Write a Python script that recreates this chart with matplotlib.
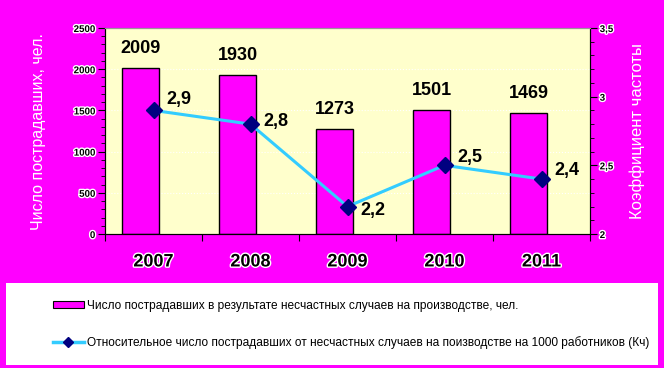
import matplotlib
matplotlib.use("Agg")
import matplotlib.pyplot as plt
import matplotlib.patheffects as pe
from matplotlib.patches import Rectangle, Patch
from matplotlib.lines import Line2D
from matplotlib.ticker import MultipleLocator, FuncFormatter

# data
years = ["2007", "2008", "2009", "2010", "2011"]
victims = [2009, 1930, 1273, 1501, 1469]
kch = [2.9, 2.8, 2.2, 2.5, 2.4]
kch_labels = ["2,9", "2,8", "2,2", "2,5", "2,4"]

bar_label = "Число пострадавших в результате несчастных случаев на производстве, чел."
line_label = "Относительное число пострадавших от несчастных случаев на поизводстве на 1000 работников (Кч)"

MAGENTA = "#FF00FF"
CYAN = "#33CCFF"
NAVY = "#000080"

plt.rcParams["font.family"] = ["Liberation Sans", "DejaVu Sans"]
halo = [pe.withStroke(linewidth=2, foreground="white")]

fig = plt.figure(figsize=(6.64, 3.68), dpi=100, facecolor=MAGENTA)
ax = fig.add_axes([105 / 664, 1 - 234 / 368, 485 / 664, 206 / 368])
ax.set_facecolor("#FFFFCC")

x = list(range(len(years)))
xb = [i - 0.13 for i in x]
ax.bar(xb, victims, width=0.38, color=MAGENTA, edgecolor="black", linewidth=1, zorder=2)
for xi, v in zip(xb, victims):
    ax.annotate(str(v), (xi, v), xytext=(0, 8), textcoords="offset points",
                ha="center", va="bottom", fontsize=13, fontweight="bold")

ax.set_xlim(-0.5, len(years) - 0.5)
ax.set_ylim(0, 2500)
ax.yaxis.set_major_locator(MultipleLocator(500))
ax.yaxis.set_minor_locator(MultipleLocator(100))
ax.set_xticks([i - 0.5 for i in range(len(years) + 1)])
ax.set_xticklabels([])
ax.set_xticks(x, minor=True)
ax.set_xticklabels(years, minor=True, fontsize=13, fontweight="bold")
ax.tick_params(axis="x", which="major", direction="out", length=5, color="black")
ax.tick_params(axis="x", which="minor", length=0, pad=14)
ax.tick_params(axis="y", which="major", direction="out", length=5, labelsize=7, pad=2)
ax.tick_params(axis="y", which="minor", direction="out", length=3)
for lab in ax.get_yticklabels() + ax.get_xticklabels(minor=True):
    lab.set_fontweight("bold")
    lab.set_path_effects(halo)
ax.grid(axis="y", color="white", linestyle=":", linewidth=0.8, zorder=0)
ax.set_axisbelow(True)
ax.spines["top"].set_color("#999999")
ax.set_ylabel("Число пострадавших, чел.", color="white", fontsize=11.5, labelpad=20)

ax2 = ax.twinx()
ax2.plot(x, kch, color=CYAN, linewidth=2.2, marker="D", markersize=8,
         markerfacecolor=NAVY, markeredgecolor=NAVY, zorder=3)
offsets = [(9, 8), (9, 2), (9, -3), (9, 6), (9, 6)]
for xi, k, t, off in zip(x, kch, kch_labels, offsets):
    ax2.annotate(t, (xi, k), xytext=off, textcoords="offset points",
                 ha="left", va="center", fontsize=13, fontweight="bold")
ax2.set_ylim(2, 3.5)
ax2.yaxis.set_major_locator(MultipleLocator(0.5))
ax2.yaxis.set_minor_locator(MultipleLocator(0.1))
ax2.yaxis.set_major_formatter(FuncFormatter(lambda v, p: f"{v:g}".replace(".", ",")))
ax2.tick_params(axis="y", which="major", direction="out", length=5, labelsize=7, pad=2)
ax2.tick_params(axis="y", which="minor", direction="out", length=3)
for lab in ax2.get_yticklabels():
    lab.set_fontweight("bold")
    lab.set_path_effects(halo)
ax2.spines["top"].set_color("#999999")
ax2.set_ylabel("Коэффициент частоты", color="white", fontsize=12, labelpad=12)

# legend box
fig.patches.append(Rectangle((6 / 664, 1 - 365 / 368), 652 / 664, 82 / 368,
                             transform=fig.transFigure, facecolor="white",
                             edgecolor="none", zorder=0))
handles = [
    Patch(facecolor=MAGENTA, edgecolor="black", linewidth=0.8),
    Line2D([], [], color=CYAN, linewidth=2.5, marker="D", markersize=5,
           markerfacecolor=NAVY, markeredgecolor=NAVY),
]
fig.legend(handles, [bar_label, line_label], loc="upper left",
           bbox_to_anchor=(42 / 664, 1 - 289 / 368), frameon=False,
           fontsize=8.6, labelspacing=2.0, handlelength=2.6, handletextpad=0.3,
           handleheight=0.6)

fig.savefig("out.png", dpi=100, facecolor=MAGENTA)
